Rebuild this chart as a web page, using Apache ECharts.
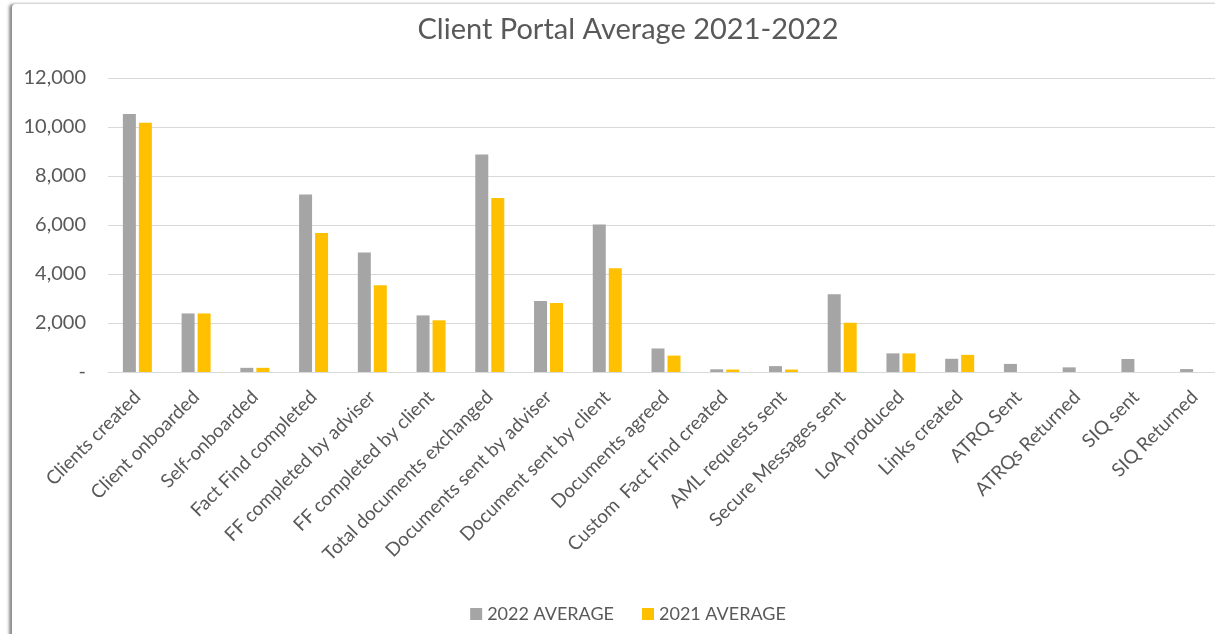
<!DOCTYPE html>
<html>
<head>
<meta charset="utf-8">
<script src="https://cdn.jsdelivr.net/npm/echarts@6/dist/echarts.min.js"></script>
<style>
  html, body { margin: 0; padding: 0; background: #fff; overflow: hidden; }
  #frame { position: absolute; left: 12px; top: 4px; width: 1300px; height: 660px;
           background: #fff; box-shadow: -3px 0 3px rgba(0,0,0,0.45); border-radius: 4px; }
  #chart { position: absolute; left: 0; top: 0; width: 1256px; height: 634px; }
</style>
</head>
<body>
<div id="frame"></div>
<div id="chart"></div>
<script>
const categories = [
  'Clients created', 'Client onboarded', 'Self-onboarded', 'Fact Find completed',
  'FF completed by adviser', 'FF completed by client', 'Total documents exchanged',
  'Documents sent by adviser', 'Document sent by client', 'Documents agreed',
  'Custom  Fact Find created', 'AML requests sent', 'Secure Messages sent',
  'LoA produced', 'Links created', 'ATRQ Sent', 'ATRQs Returned', 'SIQ sent', 'SIQ Returned'
];
const avg2022 = [10530, 2390, 170, 7250, 4880, 2310, 8880, 2900, 6020, 960, 110, 240, 3170, 760, 540, 330, 190, 530, 120];
const avg2021 = [10170, 2390, 170, 5670, 3540, 2110, 7100, 2820, 4230, 670, 100, 100, 2010, 760, 700, 0, 0, 0, 0];
const seriesNames = ['2022 AVERAGE', '2021 AVERAGE'];
const titleText = 'Client Portal Average 2021-2022';

const font = 'Lato, "Open Sans", "Liberation Sans", sans-serif';
const chart = echarts.init(document.getElementById('chart'), null, { renderer: 'canvas' });
chart.setOption({
  animation: false,
  title: {
    text: titleText, left: 'center', top: 10,
    textStyle: { fontFamily: font, fontSize: 29, fontWeight: 'normal', color: '#595959' }
  },
  legend: {
    top: 600, left: 'center', itemWidth: 12, itemHeight: 12, itemGap: 28,
    icon: 'rect',
    textStyle: { fontFamily: font, fontSize: 18, color: '#595959' },
    data: seriesNames
  },
  grid: { left: 108, width: 1116, top: 78, bottom: 262, containLabel: false },
  xAxis: {
    type: 'category', data: categories,
    axisLine: { lineStyle: { color: '#D9D9D9' } },
    axisTick: { show: false },
    axisLabel: { rotate: 45, interval: 0, margin: 22, fontFamily: font, fontSize: 19, color: '#595959' }
  },
  yAxis: {
    type: 'value', min: 0, max: 12000, interval: 2000,
    axisLine: { show: false }, axisTick: { show: false },
    splitLine: { lineStyle: { color: '#D9D9D9' } },
    axisLabel: {
      margin: 22, fontFamily: font, fontSize: 20, color: '#595959',
      formatter: v => v === 0 ? '-' : v.toLocaleString('en-US')
    }
  },
  series: [
    { name: seriesNames[0], type: 'bar', data: avg2022, barWidth: 13, barGap: '23%',
      itemStyle: { color: '#A5A5A5' } },
    { name: seriesNames[1], type: 'bar', data: avg2021, barWidth: 13,
      itemStyle: { color: '#FFC000' } }
  ]
});
</script>
</body>
</html>
